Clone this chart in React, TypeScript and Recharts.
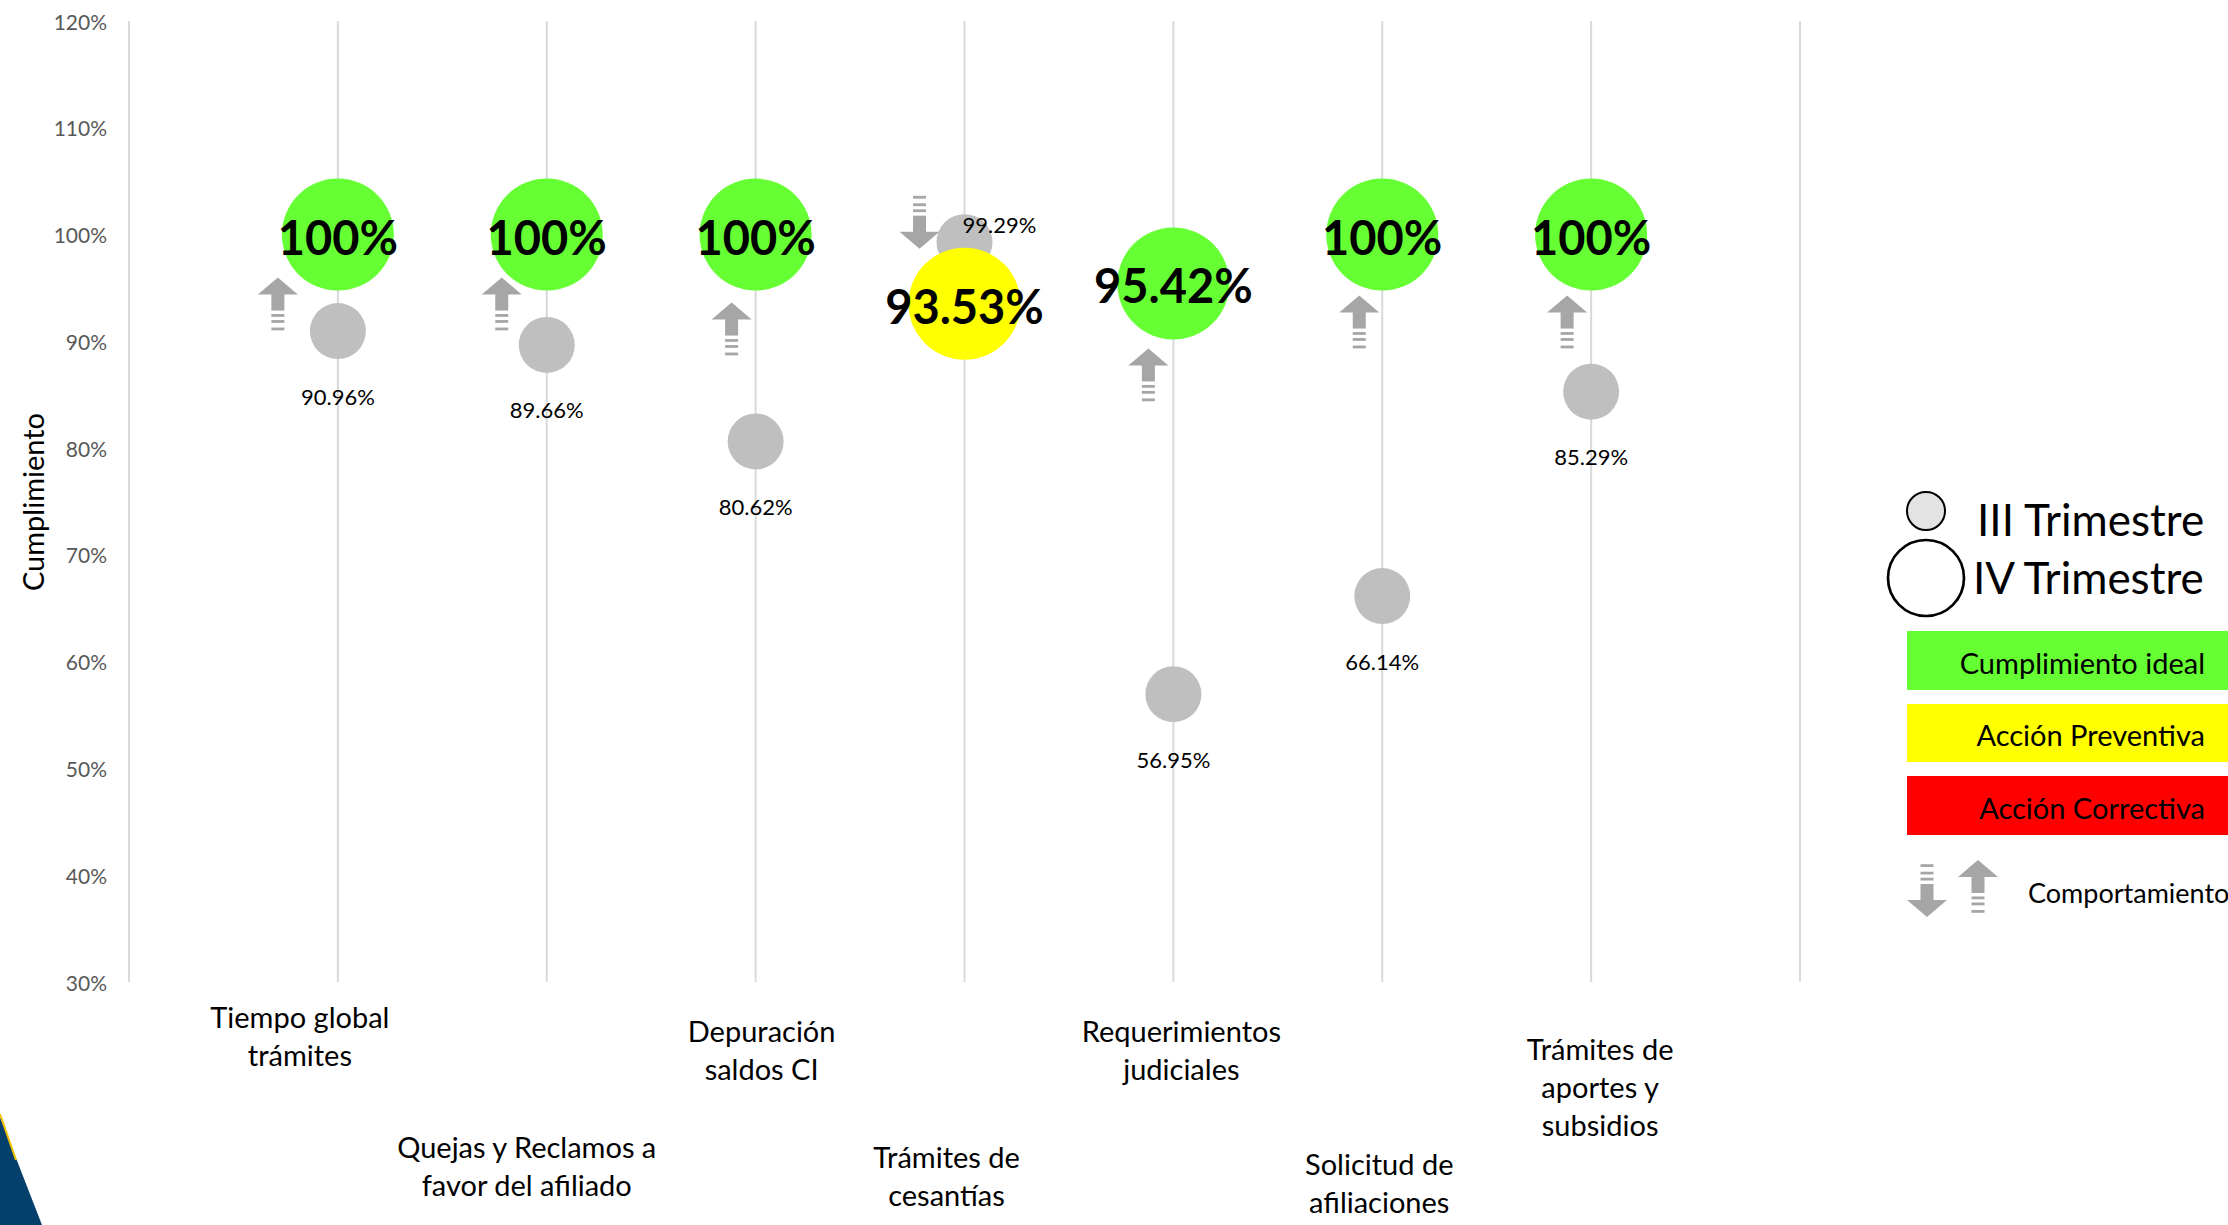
import React from 'react';
import { ScatterChart, Scatter, XAxis, YAxis, CartesianGrid } from 'recharts';

// Indicadores (eje X: posición 1..7)
const categories = [
  'Tiempo global trámites',
  'Quejas y Reclamos a favor del afiliado',
  'Depuración saldos CI',
  'Trámites de cesantías',
  'Requerimientos judiciales',
  'Solicitud de afiliaciones',
  'Trámites de aportes y subsidios',
];
const categoryLines = [
  ['Tiempo global', 'trámites'],
  ['Quejas y Reclamos a', 'favor del afiliado'],
  ['Depuración', 'saldos CI'],
  ['Trámites de', 'cesantías'],
  ['Requerimientos', 'judiciales'],
  ['Solicitud de', 'afiliaciones'],
  ['Trámites de', 'aportes y', 'subsidios'],
];
const trimestreIII = [90.96, 89.66, 80.62, 99.29, 56.95, 66.14, 85.29];
const trimestreIV = [100, 100, 100, 93.53, 95.42, 100, 100];
const comportamiento = ['up', 'up', 'up', 'down', 'up', 'up', 'up'];
const yTicks = [30, 40, 50, 60, 70, 80, 90, 100, 110, 120];
const xTicks = [0, 1, 2, 3, 4, 5, 6, 7, 8];

// layout of the hand-placed text boxes and arrows (pixels)
const tickLayout = [
  { dx: -38, dy: 34 },
  { dx: -20, dy: 164 },
  { dx: 6, dy: 48 },
  { dx: -18, dy: 174 },
  { dx: 8, dy: 48 },
  { dx: -3, dy: 181 },
  { dx: 9, dy: 66 },
];
const arrowLayout = [
  { dx: -60, dy: 70 },
  { dx: -45, dy: 70 },
  { dx: -24, dy: 95 },
  { dx: -45, dy: -82 },
  { dx: -25, dy: 92 },
  { dx: -23, dy: 88 },
  { dx: -24, dy: 88 },
];

const FONT = 'Lato, "Open Sans", sans-serif';
const GREEN = '#66FF33';
const YELLOW = '#FFFF00';
const RED = '#FF0000';
const ARROW = '#A6A6A6';

const bubbleColor = (v: number) => (v >= 95 ? GREEN : v >= 90 ? YELLOW : RED);
const fmtIV = (v: number) => (v === 100 ? '100%' : `${v.toFixed(2)}%`);

const dataIII = categories.map((name, i) => ({ x: i + 1, y: trimestreIII[i], name, idx: i }));
const dataIV = categories.map((name, i) => ({ x: i + 1, y: trimestreIV[i], name, idx: i }));
const dataArrows = categories.map((name, i) => ({ x: i + 1, y: trimestreIV[i], dir: comportamiento[i], idx: i }));

const Arrow = ({ x, y, dir }: { x: number; y: number; dir: string }) => (
  <g transform={dir === 'down' ? `translate(0 ${2 * y}) scale(1 -1)` : undefined}>
    <polygon points={`${x},${y - 27} ${x + 20},${y - 10} ${x - 20},${y - 10}`} fill={ARROW} />
    <rect x={x - 6.5} y={y - 10.5} width={13} height={16.5} fill={ARROW} />
    <rect x={x - 6.5} y={y + 9.5} width={13} height={2.8} fill={ARROW} />
    <rect x={x - 6.5} y={y + 15.5} width={13} height={2.8} fill={ARROW} />
    <rect x={x - 6.5} y={y + 23} width={13} height={2.8} fill={ARROW} />
  </g>
);

const GrayDot = (props: any) => {
  const { cx, cy, payload } = props;
  const above = payload.idx === 3;
  return (
    <g>
      <circle cx={cx} cy={cy} r={28} fill="#BFBFBF" />
      <text
        x={above ? cx - 2 : cx}
        y={above ? cy - 18 : cy + 65}
        textAnchor={above ? 'start' : 'middle'}
        dominantBaseline="central"
        fontFamily={FONT}
        fontSize={22}
        fill="#000"
      >
        {`${payload.y.toFixed(2)}%`}
      </text>
    </g>
  );
};

const Bubble = (props: any) => {
  const { cx, cy, payload } = props;
  return (
    <g>
      <circle cx={cx} cy={cy} r={56} fill={bubbleColor(payload.y)} />
      <text
        x={cx}
        y={cy + 2}
        textAnchor="middle"
        dominantBaseline="central"
        fontFamily={FONT}
        fontWeight={700}
        fontSize={47}
        fill="#000"
      >
        {fmtIV(payload.y)}
      </text>
    </g>
  );
};

const ArrowShape = (props: any) => {
  const { cx, cy, payload } = props;
  const l = arrowLayout[payload.idx];
  return <Arrow x={cx + l.dx} y={cy + l.dy} dir={payload.dir} />;
};

const CategoryTick = (props: any) => {
  const { x, y, payload } = props;
  const i = payload.value - 1;
  if (i < 0 || i >= categoryLines.length) return <g />;
  const l = tickLayout[i];
  return (
    <g>
      {categoryLines[i].map((line, k) => (
        <text
          key={k}
          x={x + l.dx}
          y={y + l.dy + k * 38}
          textAnchor="middle"
          dominantBaseline="central"
          fontFamily={FONT}
          fontSize={29}
          fill="#000"
        >
          {line}
        </text>
      ))}
    </g>
  );
};

const PercentTick = (props: any) => {
  const { x, y, payload } = props;
  return (
    <text x={x} y={y} textAnchor="end" dominantBaseline="central" fontFamily={FONT} fontSize={21} fill="#595959">
      {`${payload.value}%`}
    </text>
  );
};

const LegendPanel = () => (
  <svg width={2228} height={1225} style={{ position: 'absolute', left: 0, top: 0, pointerEvents: 'none' }}>
    {/* slide decoration */}
    <polygon points="0,1117 42,1225 0,1225" fill="#053F6B" />
    <line x1={0} y1={1114} x2={16} y2={1160} stroke="#F2C200" strokeWidth={2} />

    <circle cx={1926} cy={511} r={19} fill="#E3E3E3" stroke="#000" strokeWidth={2} />
    <text x={1977} y={536} fontFamily={FONT} fontSize={44} fill="#000">III Trimestre</text>
    <circle cx={1926} cy={578} r={38} fill="#fff" stroke="#000" strokeWidth={2.7} />
    <text x={1973} y={594} fontFamily={FONT} fontSize={44} fill="#000">IV Trimestre</text>

    <rect x={1907} y={631} width={330} height={59} fill={GREEN} />
    <text x={2205} y={662} textAnchor="end" dominantBaseline="central" fontFamily={FONT} fontSize={29}>Cumplimiento ideal</text>
    <rect x={1907} y={704} width={330} height={58} fill={YELLOW} />
    <text x={2205} y={734} textAnchor="end" dominantBaseline="central" fontFamily={FONT} fontSize={29}>Acción Preventiva</text>
    <rect x={1907} y={776} width={330} height={59} fill={RED} />
    <text x={2205} y={807} textAnchor="end" dominantBaseline="central" fontFamily={FONT} fontSize={29}>Acción Correctiva</text>

    <Arrow x={1927} y={890} dir="down" />
    <Arrow x={1978} y={887} dir="up" />
    <text x={2028} y={892} dominantBaseline="central" fontFamily={FONT} fontSize={27}>Comportamiento</text>
  </svg>
);

export default function App() {
  return (
    <div style={{ position: 'absolute', left: 0, top: 0, width: 2228, height: 1225, background: '#fff', overflow: 'hidden' }}>
      <ScatterChart width={2228} height={1225} margin={{ top: 21, right: 428, bottom: 0, left: 0 }}>
        <CartesianGrid horizontal={false} stroke="#D9D9D9" strokeWidth={2} />
        <XAxis
          type="number"
          dataKey="x"
          domain={[0, 8]}
          ticks={xTicks}
          interval={0}
          axisLine={false}
          tickLine={false}
          tickSize={0}
          tickMargin={0}
          height={243}
          tick={<CategoryTick />}
        />
        <YAxis
          type="number"
          dataKey="y"
          domain={[30, 120]}
          ticks={yTicks}
          interval={0}
          width={129}
          axisLine={false}
          tickLine={false}
          tickSize={0}
          tickMargin={22}
          tick={<PercentTick />}
          label={{
            content: () => (
              <text x={32} y={502} transform="rotate(-90 32 502)" textAnchor="middle" dominantBaseline="central" fontFamily={FONT} fontSize={29} fill="#000">
                Cumplimiento
              </text>
            ),
          }}
        />
        <Scatter name="III Trimestre" data={dataIII} shape={GrayDot} isAnimationActive={false} />
        <Scatter name="IV Trimestre" data={dataIV} shape={Bubble} isAnimationActive={false} />
        <Scatter name="Comportamiento" data={dataArrows} shape={ArrowShape} isAnimationActive={false} />
      </ScatterChart>
      <LegendPanel />
    </div>
  );
}
